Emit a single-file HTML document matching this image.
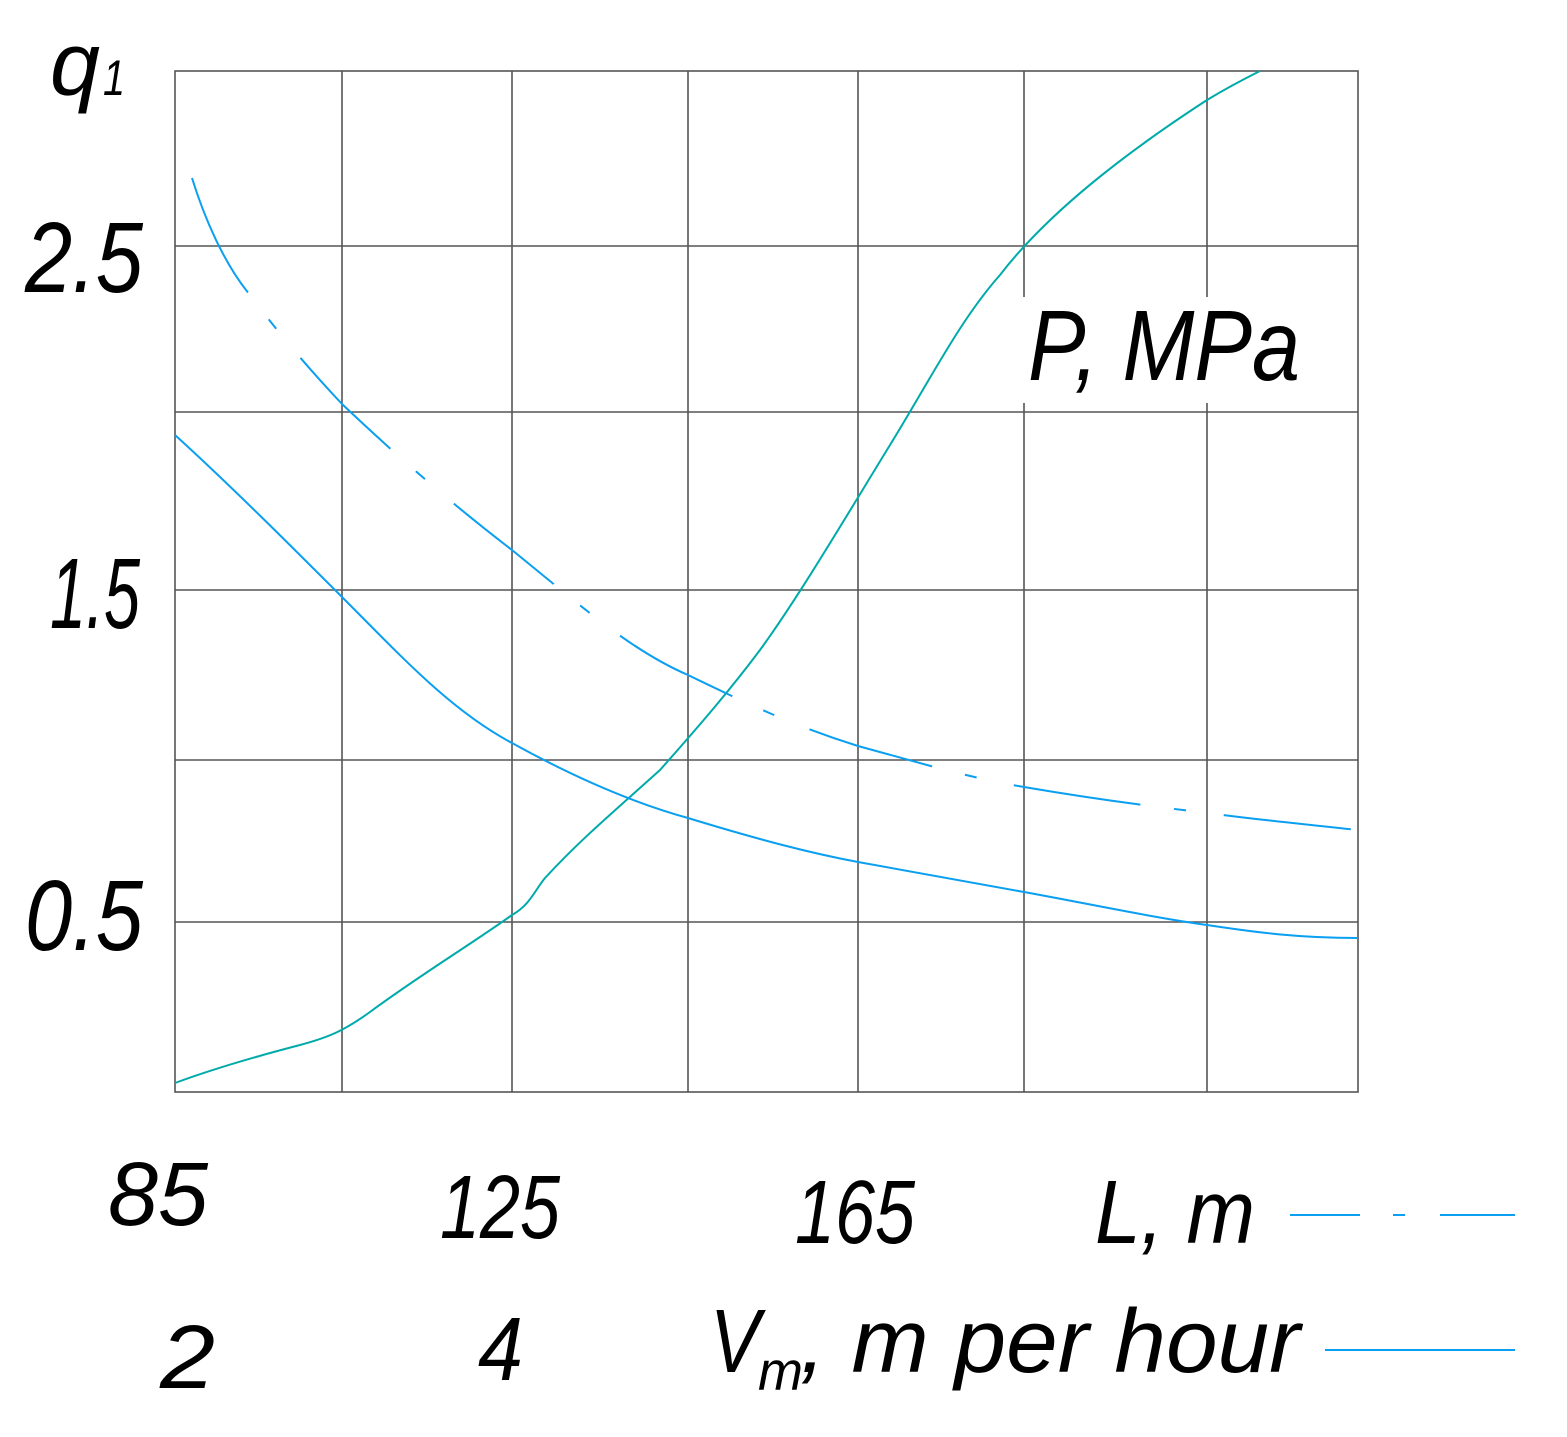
<!DOCTYPE html>
<html><head><style>html,body{margin:0;padding:0;background:#fff}svg{display:block}</style></head>
<body>
<svg width="1567" height="1437" viewBox="0 0 1567 1437" xmlns="http://www.w3.org/2000/svg">
<g stroke="#555" stroke-width="1.6" fill="none">
<rect x="175" y="71" width="1183" height="1021"/>
<line x1="342" y1="71" x2="342" y2="1092"/>
<line x1="512" y1="71" x2="512" y2="1092"/>
<line x1="688" y1="71" x2="688" y2="1092"/>
<line x1="858" y1="71" x2="858" y2="1092"/>
<line x1="1024" y1="71" x2="1024" y2="1092"/>
<line x1="1207" y1="71" x2="1207" y2="1092"/>
<line x1="175" y1="246" x2="1358" y2="246"/>
<line x1="175" y1="412" x2="1358" y2="412"/>
<line x1="175" y1="590" x2="1358" y2="590"/>
<line x1="175" y1="760" x2="1358" y2="760"/>
<line x1="175" y1="922" x2="1358" y2="922"/>
</g>
<rect x="1022" y="297" width="300" height="106" fill="#fff"/>
<g fill="none" stroke-width="2">
<path stroke="#00aaaa" d="M175,1083 C210,1070 250,1058 300,1045 C330,1037 345,1030 370,1012 C420,975 470,945 512,915 C530,905 535,890 545,878 C580,840 610,815 660,770 C700,725 730,690 760,650 C800,595 850,510 890,445 C930,380 960,320 1000,275 C1050,210 1130,150 1207,100 C1230,86 1250,76 1260,71"/>
<path stroke="#0a9ff0" d="M175,435 C230,485 290,545 342,597 C400,655 450,710 512,743 C570,775 630,802 688,818 C760,840 810,853 858,862 C930,875 980,884 1024,892 C1090,904 1150,917 1207,925 C1260,933 1300,938 1358,938"/>
<path stroke="#0a9ff0" stroke-dasharray="128 34 12 38" d="M192,178 C205,220 225,265 250,295 C280,335 310,370 342,404 C380,440 440,495 512,550 C580,605 630,650 688,675 C740,700 790,725 858,746 C920,763 970,778 1024,787 C1100,800 1150,806 1207,813 C1270,821 1310,825 1358,830"/>
<line x1="1290" y1="1215" x2="1360" y2="1215" stroke="#0a9ff0"/>
<line x1="1393" y1="1215" x2="1405" y2="1215" stroke="#0a9ff0"/>
<line x1="1440" y1="1215" x2="1515" y2="1215" stroke="#0a9ff0"/>
<line x1="1325" y1="1350" x2="1515" y2="1350" stroke="#0a9ff0"/>
</g>
<g font-family="Liberation Sans, sans-serif" font-style="italic" fill="#000">
<text x="50" y="95" font-size="90" textLength="50" lengthAdjust="spacingAndGlyphs">q</text>
<text x="103" y="95" font-size="50" textLength="22" lengthAdjust="spacingAndGlyphs">1</text>
<text x="25" y="292" font-size="100" textLength="118" lengthAdjust="spacingAndGlyphs">2.5</text>
<text x="50" y="628" font-size="100" textLength="90" lengthAdjust="spacingAndGlyphs">1.5</text>
<text x="25" y="950" font-size="100" textLength="118" lengthAdjust="spacingAndGlyphs">0.5</text>
<text x="1028" y="380" font-size="100" textLength="272" lengthAdjust="spacingAndGlyphs">P, MPa</text>
<text x="108" y="1225" font-size="90" textLength="100" lengthAdjust="spacingAndGlyphs">85</text>
<text x="440" y="1238" font-size="90" textLength="120" lengthAdjust="spacingAndGlyphs">125</text>
<text x="795" y="1243" font-size="90" textLength="120" lengthAdjust="spacingAndGlyphs">165</text>
<text x="1095" y="1243" font-size="90" textLength="160" lengthAdjust="spacingAndGlyphs">L, m</text>
<text x="160" y="1388" font-size="90" textLength="55" lengthAdjust="spacingAndGlyphs">2</text>
<text x="478" y="1380" font-size="90" textLength="45" lengthAdjust="spacingAndGlyphs">4</text>
<text x="710" y="1372" font-size="90" textLength="50" lengthAdjust="spacingAndGlyphs">V</text>
<text x="758" y="1390" font-size="55" textLength="45" lengthAdjust="spacingAndGlyphs">m</text>
<text x="800" y="1372" font-size="90" textLength="500" lengthAdjust="spacingAndGlyphs">, m per hour</text>
</g>
</svg>
</body></html>
